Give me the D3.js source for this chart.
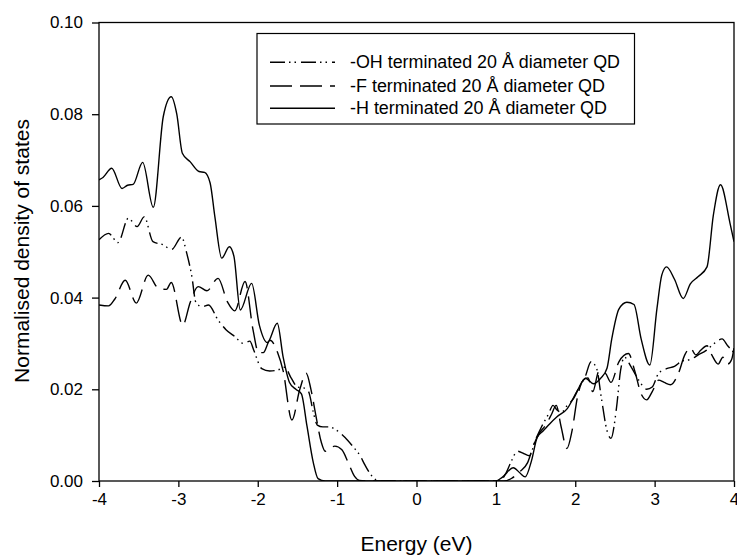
<!DOCTYPE html>
<html>
<head>
<meta charset="utf-8">
<script src="https://cdn.jsdelivr.net/npm/d3@7/dist/d3.min.js"></script>
<style>
  html, body { margin: 0; padding: 0; background: #fff; }
  svg { display: block; font-family: "Liberation Sans", Arial, sans-serif; }
</style>
</head>
<body>
<svg id="chart" width="737" height="555"></svg>
<script>
// Energy grid points (eV) and normalised DOS for each surface termination
const energyOH = [-4.00,-3.88,-3.76,-3.63,-3.52,-3.43,-3.32,-3.19,-3.085,-2.96,-2.895,-2.83,-2.78,-2.70,-2.62,-2.50,-2.40,-2.29,-2.18,-2.10,-2.05,-1.95,-1.85,-1.75,-1.66,-1.58,-1.50,-1.42,-1.36,-1.30,-1.25,-1.18,-1.10,-1.03,-0.90,-0.80,-0.71,-0.65,-0.58,-0.50,-0.42,
  1.00,1.05,1.12,1.20,1.27,1.35,1.42,1.50,1.58,1.66,1.72,1.77,1.83,1.90,1.98,2.05,2.12,2.20,2.27,2.33,2.40,2.45,2.52,2.57,2.62,2.70,2.80,2.90,2.97,3.05,3.15,3.25,3.35,3.45,3.55,3.65,3.75,3.85,3.92,4.00];
const dosOH = [0.0526,0.0540,0.0520,0.0573,0.0555,0.0576,0.0522,0.0515,0.0505,0.0532,0.0497,0.0446,0.0390,0.0380,0.0384,0.0351,0.0330,0.0315,0.0300,0.0305,0.0285,0.0245,0.0240,0.0242,0.0248,0.0225,0.0205,0.0203,0.0195,0.0150,0.0122,0.0118,0.0118,0.0113,0.0095,0.0075,0.0055,0.0035,0.0015,0.0002,0,
  0,0,0.0015,0.0045,0.0065,0.0060,0.0055,0.0090,0.0120,0.0145,0.0165,0.0155,0.0150,0.0165,0.0180,0.0205,0.0225,0.0260,0.0245,0.0180,0.0110,0.0093,0.0160,0.0240,0.0270,0.0250,0.0220,0.0200,0.0205,0.0235,0.0245,0.0250,0.0262,0.0265,0.0275,0.0285,0.0300,0.0310,0.0295,0.0280];

const energyF = [-4.00,-3.88,-3.80,-3.67,-3.53,-3.38,-3.25,-3.15,-3.09,-2.945,-2.85,-2.75,-2.64,-2.50,-2.38,-2.29,-2.16,-2.06,-1.99,-1.93,-1.846,-1.75,-1.68,-1.57,-1.47,-1.39,-1.33,-1.27,-1.20,-1.15,-1.03,-0.94,-0.86,-0.78,-0.72,-0.65,
  1.10,1.20,1.30,1.40,1.48,1.55,1.62,1.70,1.76,1.82,1.895,1.96,2.03,2.10,2.16,2.22,2.30,2.38,2.45,2.55,2.67,2.75,2.83,2.90,2.97,3.05,3.12,3.20,3.30,3.38,3.45,3.52,3.58,3.66,3.72,3.80,3.86,3.92,3.97,4.00];
const dosF = [0.0384,0.0382,0.0397,0.0438,0.0388,0.0449,0.0420,0.0418,0.0433,0.0340,0.0390,0.0424,0.0415,0.0442,0.0390,0.0371,0.0435,0.0330,0.0280,0.0280,0.0307,0.0280,0.0240,0.0133,0.0200,0.0235,0.0200,0.0145,0.0085,0.0065,0.0076,0.0068,0.0040,0.0010,0.0001,0,
  0,0.0006,0.0020,0.0040,0.0080,0.0105,0.0120,0.0145,0.0165,0.0120,0.0071,0.0110,0.0185,0.0220,0.0225,0.0195,0.0240,0.0235,0.0215,0.0260,0.0278,0.0240,0.0190,0.0177,0.0195,0.0220,0.0215,0.0210,0.0235,0.0275,0.0290,0.0275,0.0285,0.0295,0.0275,0.0255,0.0270,0.0255,0.0265,0.0290];

const energyH = [-4.00,-3.95,-3.84,-3.71,-3.64,-3.57,-3.45,-3.316,-3.19,-3.09,-3.02,-2.95,-2.85,-2.74,-2.67,-2.60,-2.54,-2.454,-2.358,-2.30,-2.22,-2.077,-1.98,-1.88,-1.754,-1.68,-1.60,-1.52,-1.45,-1.38,-1.30,-1.24,-1.15,
  1.00,1.08,1.22,1.30,1.37,1.45,1.52,1.60,1.68,1.77,1.90,2.02,2.13,2.23,2.32,2.40,2.46,2.55,2.65,2.74,2.83,2.94,3.03,3.09,3.15,3.25,3.36,3.45,3.55,3.66,3.74,3.83,3.95,4.00];
const dosH = [0.0657,0.0662,0.0682,0.0638,0.0645,0.0647,0.0695,0.0597,0.0795,0.0838,0.0800,0.0715,0.0696,0.0675,0.0673,0.0650,0.0576,0.0486,0.0511,0.0490,0.0373,0.0431,0.0340,0.0302,0.0344,0.0270,0.0215,0.0200,0.0190,0.0120,0.0040,0.0005,0,
  0,0.0008,0.0029,0.0018,0.0009,0.0045,0.0095,0.0110,0.0125,0.0140,0.0158,0.0195,0.0224,0.0212,0.0224,0.0246,0.0310,0.0375,0.0390,0.0385,0.0310,0.0253,0.0377,0.0449,0.0467,0.0440,0.0398,0.0430,0.0446,0.0467,0.0580,0.0646,0.0562,0.0522];

const seriesNames = ["-OH terminated 20 Å diameter QD", "-F terminated 20 Å diameter QD", "-H terminated 20 Å diameter QD"];
const xTicks = [-4, -3, -2, -1, 0, 1, 2, 3, 4];
const yTicks = [0.00, 0.02, 0.04, 0.06, 0.08, 0.10];

const series = [
  { name: seriesNames[0], energy: energyOH, dos: dosOH, dash: "15,4,1.5,4,1.5,5" },
  { name: seriesNames[1], energy: energyF,  dos: dosF,  dash: "22,8" },
  { name: seriesNames[2], energy: energyH,  dos: dosH,  dash: null }
];

const svg = d3.select("#chart");
const plotLeft = 99, plotRight = 734, plotTop = 22.5, plotBottom = 481;

const x = d3.scaleLinear().domain([-4, 4]).range([plotLeft, plotRight]);
const y = d3.scaleLinear().domain([0, 0.10]).range([plotBottom, plotTop]);

// clip curves to the plotting frame
svg.append("defs").append("clipPath").attr("id", "plotClip")
  .append("rect").attr("x", plotLeft).attr("y", plotTop)
  .attr("width", plotRight - plotLeft).attr("height", plotBottom - plotTop);

const line = d3.line()
  .x(d => x(d[0]))
  .y(d => y(d[1]))
  .curve(d3.curveMonotoneX);

const curves = svg.append("g").attr("clip-path", "url(#plotClip)");
series.forEach(s => {
  const pts = s.energy.map((e, i) => [e, s.dos[i]]);
  curves.append("path")
    .datum(pts)
    .attr("d", line)
    .attr("fill", "none")
    .attr("stroke", "#000")
    .attr("stroke-width", 1.4)
    .attr("stroke-dasharray", s.dash);
});

// axes
const xAxis = d3.axisBottom(x).tickValues(xTicks).tickSize(6).tickSizeOuter(0).tickPadding(6)
  .tickFormat(d => String(d));
const yAxis = d3.axisLeft(y).tickValues(yTicks).tickSize(7).tickSizeOuter(0).tickPadding(9)
  .tickFormat(d3.format(".2f"));

const gx = svg.append("g").attr("transform", `translate(0,${plotBottom})`).call(xAxis);
const gy = svg.append("g").attr("transform", `translate(${plotLeft},0)`).call(yAxis);
[gx, gy].forEach(g => {
  g.selectAll("path.domain").remove();
  g.selectAll(".tick line").attr("stroke", "#000").attr("stroke-width", 1.3);
  g.selectAll(".tick text").attr("fill", "#000").style("font-size", "17px")
    .style("font-family", "'Liberation Sans', Arial, sans-serif");
});

// frame
svg.append("rect")
  .attr("x", plotLeft).attr("y", plotTop)
  .attr("width", plotRight - plotLeft).attr("height", plotBottom - plotTop)
  .attr("fill", "none").attr("stroke", "#000").attr("stroke-width", 1.3);

// axis titles
svg.append("text")
  .attr("x", (plotLeft + plotRight) / 2).attr("y", 551)
  .attr("text-anchor", "middle")
  .style("font-size", "21px")
  .text("Energy (eV)");

svg.append("text")
  .attr("transform", "translate(29,251) rotate(-90)")
  .attr("text-anchor", "middle")
  .style("font-size", "21px")
  .text("Normalised density of states");

// legend
const legend = svg.append("g");
legend.append("rect")
  .attr("x", 257).attr("y", 33.5).attr("width", 377.5).attr("height", 90.5)
  .attr("fill", "#fff").attr("stroke", "#000").attr("stroke-width", 1.2);
const rowY = [62.3, 86, 108.3];
const labelWidths = [270, 255, 257];
series.forEach((s, i) => {
  legend.append("line")
    .attr("x1", 270).attr("x2", 335)
    .attr("y1", rowY[i]).attr("y2", rowY[i])
    .attr("stroke", "#000").attr("stroke-width", 1.4)
    .attr("stroke-dasharray", s.dash);
  legend.append("text")
    .attr("x", 350).attr("y", rowY[i] + 6)
    .attr("textLength", labelWidths[i])
    .attr("lengthAdjust", "spacingAndGlyphs")
    .style("font-size", "17.5px")
    .text(s.name);
});
</script>
</body>
</html>
